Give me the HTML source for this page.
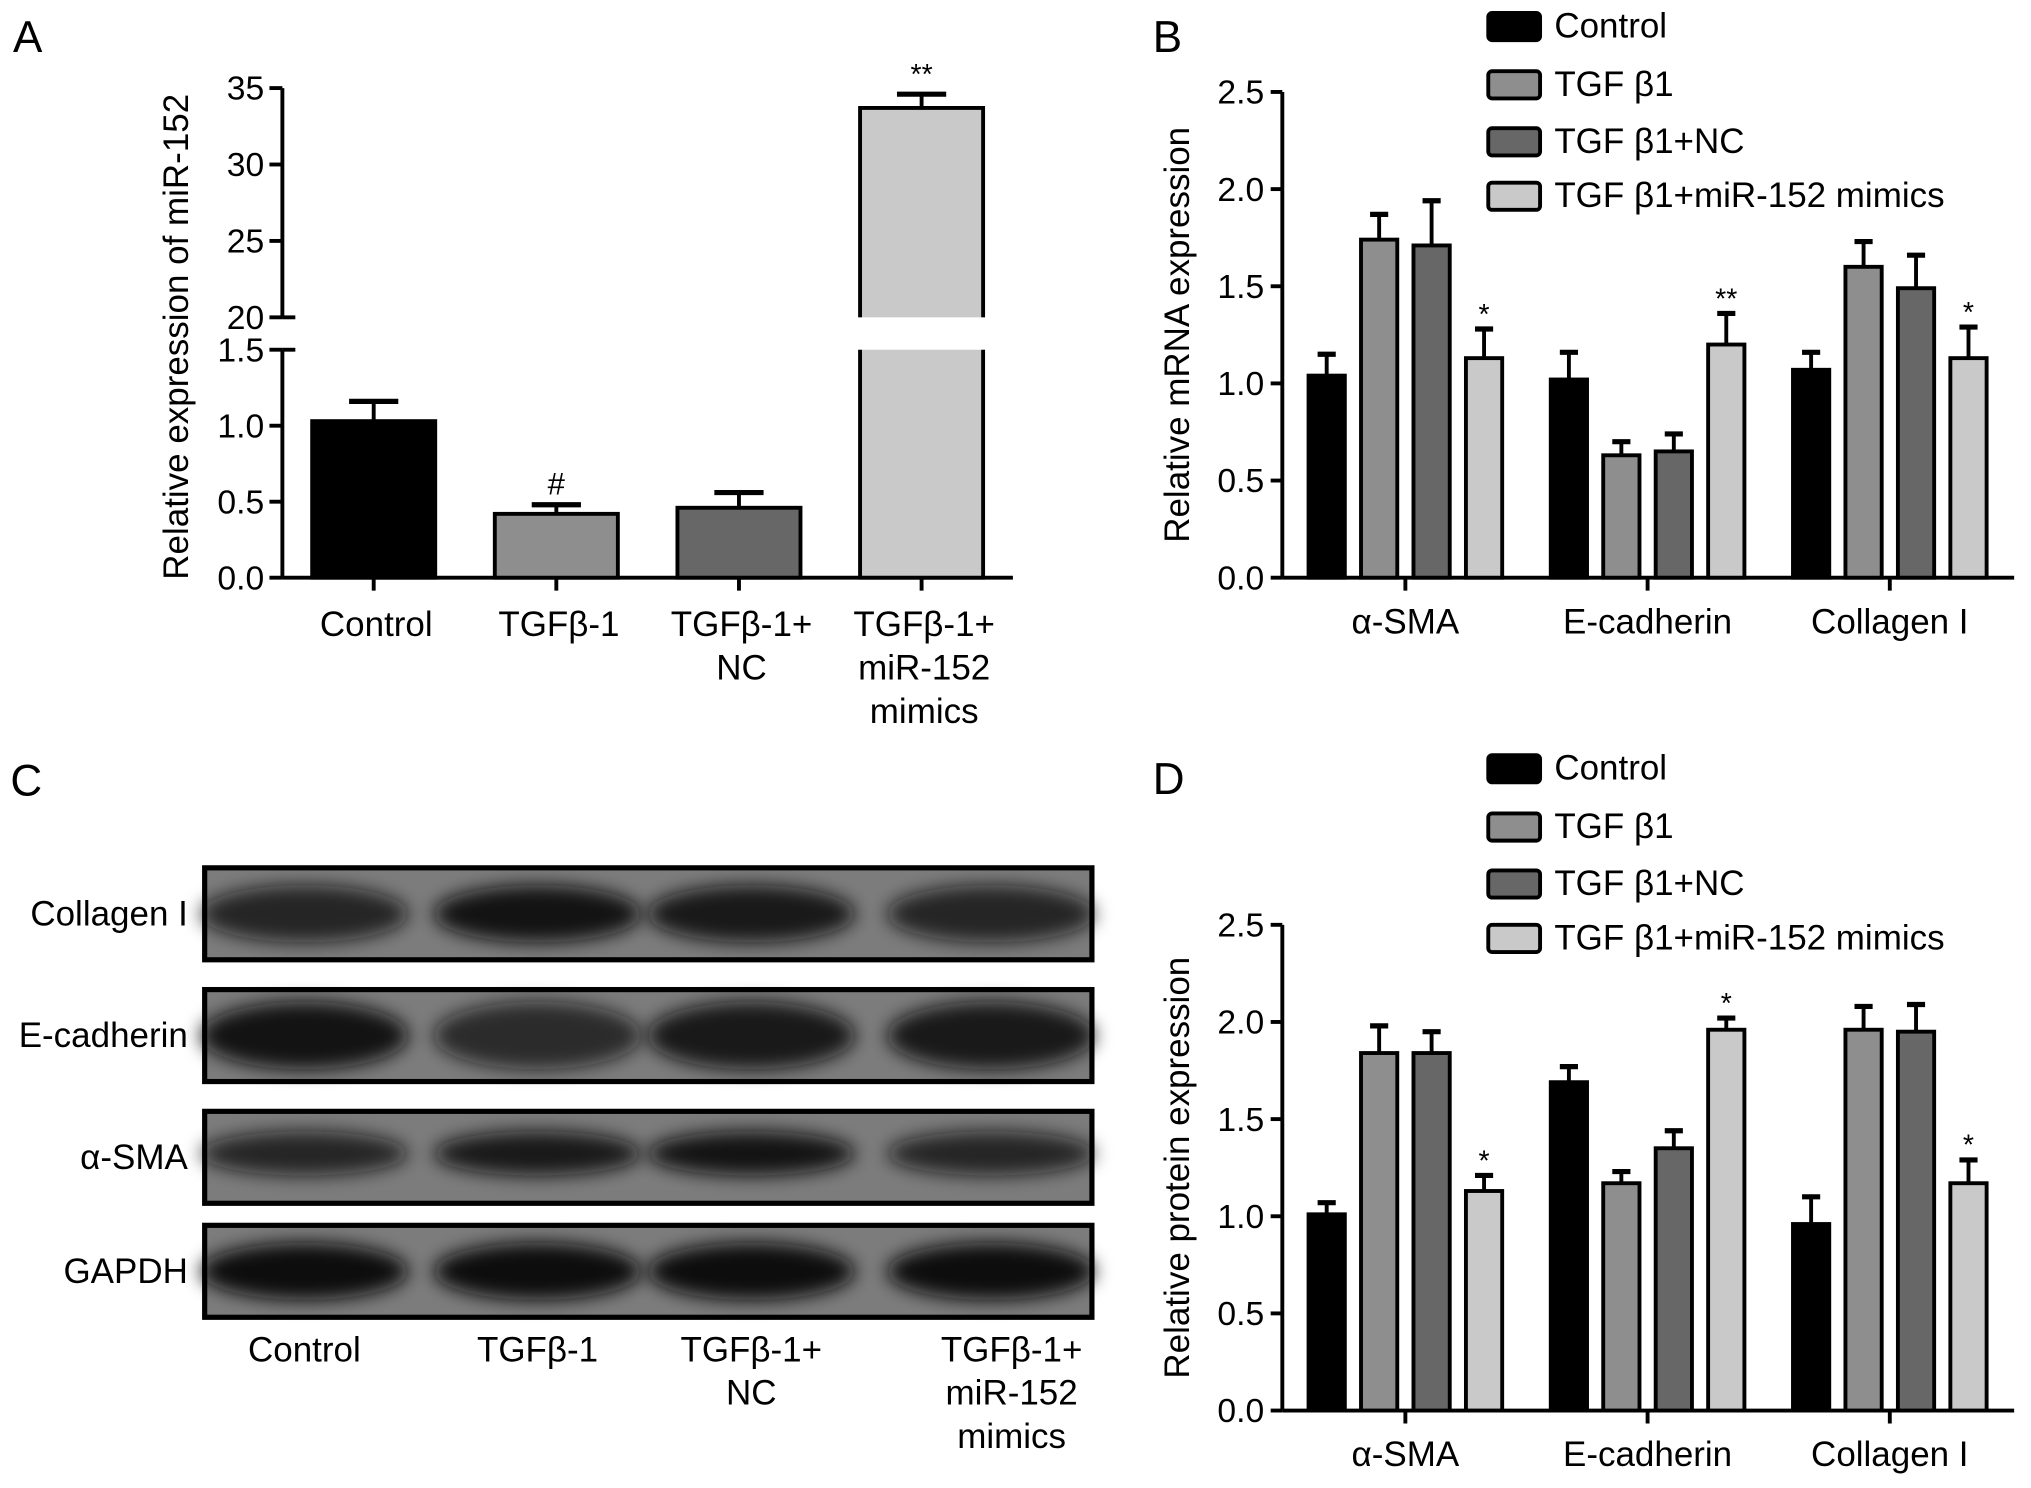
<!DOCTYPE html>
<html><head><meta charset="utf-8"><style>
html,body{margin:0;padding:0;background:#fff;}
svg{display:block;font-family:"Liberation Sans",Arial,sans-serif;}
</style></head><body>
<svg id="fig" width="2031" height="1488" viewBox="0 0 1568 1148.8" xmlns="http://www.w3.org/2000/svg">
<defs>
<filter id="blur" x="-30%" y="-60%" width="160%" height="220%"><feGaussianBlur stdDeviation="7"/></filter>
</defs>
<g id="pA"></g>
<g id="pB"></g>
<g id="pC"></g>
<g id="pD"></g>
</svg>
<script>
// Panel A data
const aCategories = [["Control"],["TGFβ-1"],["TGFβ-1+","NC"],["TGFβ-1+","miR-152","mimics"]];
const aValues = [1.03, 0.42, 0.46, 33.7];
const aErrors = [0.13, 0.06, 0.10, 0.9];
const aMarks = ["", "#", "", "**"];
const aLowTicks = ["0.0","0.5","1.0","1.5"];
const aHighTicks = ["20","25","30","35"];
// Panel B data
const groups = ["α-SMA","E-cadherin","Collagen I"];
const seriesNames = ["Control","TGF β1","TGF β1+NC","TGF β1+miR-152 mimics"];
const bControl = [1.04, 1.02, 1.07];
const bTGF = [1.74, 0.63, 1.60];
const bNC = [1.71, 0.65, 1.49];
const bMimic = [1.13, 1.20, 1.13];
const bErrControl = [0.11, 0.14, 0.09];
const bErrTGF = [0.13, 0.07, 0.13];
const bErrNC = [0.23, 0.09, 0.17];
const bErrMimic = [0.15, 0.16, 0.16];
const bStars = ["*","**","*"];
// Panel D data
const dControl = [1.01, 1.69, 0.96];
const dTGF = [1.84, 1.17, 1.96];
const dNC = [1.84, 1.35, 1.95];
const dMimic = [1.13, 1.96, 1.17];
const dErrControl = [0.06, 0.08, 0.14];
const dErrTGF = [0.14, 0.06, 0.12];
const dErrNC = [0.11, 0.09, 0.14];
const dErrMimic = [0.08, 0.06, 0.12];
const dStars = ["*","*","*"];
const groupTicks = ["0.0","0.5","1.0","1.5","2.0","2.5"];
// Panel C
const blotRows = ["Collagen I","E-cadherin","α-SMA","GAPDH"];
const blotLanes = [["Control"],["TGFβ-1"],["TGFβ-1+","NC"],["TGFβ-1+","miR-152","mimics"]];
const blotIntensity = [[0.8,0.95,0.9,0.8],[0.95,0.75,0.9,0.9],[0.8,0.9,0.95,0.8],[1,1,1,1]];

const NS="http://www.w3.org/2000/svg";
const fills=["#000","#8e8e8e","#676767","#c9c9c9"];
function el(parent,tag,attrs,text){const e=document.createElementNS(NS,tag);for(const k in attrs)e.setAttribute(k,attrs[k]);if(text!==undefined)e.textContent=text;parent.appendChild(e);return e;}

// ---------- Panel A ----------
(function(){
 const g=document.getElementById('pA');
 const X0=218,X1=782,Y0=446;
 const yLow=v=>Y0-v*(176/1.5);
 const yHigh=v=>245-(v-20)*(177/15);
 const yv=v=>v<=1.5?yLow(v):yHigh(v);
 let t=el(g,'text',{x:10,y:40,'font-size':34},'A');
 const ax=el(g,'g',{});
 el(ax,'line',{x1:X0,y1:68,x2:X0,y2:245,stroke:'#000','stroke-width':3});
 el(ax,'line',{x1:X0,y1:270,x2:X0,y2:Y0,stroke:'#000','stroke-width':3});
 aLowTicks.forEach(s=>{const y=yLow(parseFloat(s));el(ax,'line',{x1:X0-10,y1:y,x2:X0,y2:y,stroke:'#000','stroke-width':3});const tt=el(ax,'text',{x:X0-14,y:y+9,'font-size':26,'text-anchor':'end'},s);});
 aHighTicks.forEach(s=>{const y=yHigh(parseFloat(s));el(ax,'line',{x1:X0-10,y1:y,x2:X0,y2:y,stroke:'#000','stroke-width':3});const tt=el(ax,'text',{x:X0-14,y:y+9,'font-size':26,'text-anchor':'end'},s);});
 el(ax,'line',{x1:X0,y1:245,x2:X0+10,y2:245,stroke:'#000','stroke-width':3});
 el(ax,'line',{x1:X0,y1:270,x2:X0+10,y2:270,stroke:'#000','stroke-width':3});
 t=el(g,'text',{x:0,y:0,'font-size':27,'text-anchor':'middle',transform:'translate(145,260) rotate(-90)'},'Relative expression of miR-152');
 el(g,'line',{x1:X0,y1:Y0,x2:X1,y2:Y0,stroke:'#000','stroke-width':3});
 const step=(X1-X0)/4, bw=95;
 aValues.forEach((v,i)=>{
  const cx=X0+step*(i+0.5);
  el(g,'line',{x1:cx,y1:Y0,x2:cx,y2:Y0+10,stroke:'#000','stroke-width':3});
  const bg=el(g,'g',{});
  const top=yv(v), et=yv(v+aErrors[i]);
  el(bg,'line',{x1:cx,y1:top,x2:cx,y2:et,stroke:'#000','stroke-width':3});
  el(bg,'line',{x1:cx-19,y1:et,x2:cx+19,y2:et,stroke:'#000','stroke-width':4});
  if(v>1.5){
   el(bg,'rect',{x:cx-bw/2,y:top,width:bw,height:Y0-top,fill:fills[i],stroke:'#000','stroke-width':3});
   el(bg,'rect',{x:cx-bw/2-4,y:245,width:bw+8,height:25,fill:'#fff'});
  } else el(bg,'rect',{x:cx-bw/2,y:top,width:bw,height:Y0-top,fill:fills[i],stroke:'#000','stroke-width':3});
  if(aMarks[i]){const m=el(g,'text',{x:cx,y:et-8,'font-size':aMarks[i]=='#'?24:22,'text-anchor':'middle'},aMarks[i]);}
  aCategories[i].forEach((s,j)=>{const l=el(g,'text',{x:cx+2,y:491+j*33.5,'font-size':27,'text-anchor':'middle'},s);});
 });
})();

// ---------- Grouped panels ----------
function grouped(gid,letter,Y0,legTop,vals,errs,stars,title){
 const g=document.getElementById(gid);
 const X0=990,X1=1555,Ytop=Y0-375;
 const y=v=>Y0-v*(375/2.5);
 let t=el(g,'text',{x:890,y:legTop+20,'font-size':34},letter);
 const lg=el(g,'g',{});
 const rows=[0,45,89,131];
 seriesNames.forEach((s,i)=>{const e=el(lg,'g',{});
  el(e,'rect',{x:1149,y:legTop+rows[i]-10,width:40,height:21,rx:3,fill:fills[i],stroke:'#000','stroke-width':3});
  el(e,'text',{x:1200,y:legTop+rows[i]+9,'font-size':27},s);});
 el(g,'line',{x1:X0,y1:Ytop,x2:X0,y2:Y0,stroke:'#000','stroke-width':3});
 groupTicks.forEach(s=>{const yy=y(parseFloat(s));el(g,'line',{x1:X0-9,y1:yy,x2:X0,y2:yy,stroke:'#000','stroke-width':3});const tt=el(g,'text',{x:X0-14,y:yy+9,'font-size':26,'text-anchor':'end'},s);});
 t=el(g,'text',{x:0,y:0,'font-size':27,'text-anchor':'middle',transform:`translate(918,${(Ytop+Y0)/2}) rotate(-90)`},title);
 el(g,'line',{x1:X0,y1:Y0,x2:X1,y2:Y0,stroke:'#000','stroke-width':3});
 const gStep=187, gStart=1085, bStep=40.5, bw=28;
 groups.forEach((gn,k)=>{
  const gc=gStart+gStep*k;
  el(g,'line',{x1:gc,y1:Y0,x2:gc,y2:Y0+10,stroke:'#000','stroke-width':3});
  const l=el(g,'text',{x:gc,y:Y0+43,'font-size':27,'text-anchor':'middle'},gn);
  vals.forEach((ser,i)=>{
   const cx=gc+(i-1.5)*bStep, top=y(ser[k]), et=y(ser[k]+errs[i][k]);
   const bg=el(g,'g',{});
   el(bg,'line',{x1:cx,y1:top,x2:cx,y2:et,stroke:'#000','stroke-width':3});
   el(bg,'line',{x1:cx-7,y1:et,x2:cx+7,y2:et,stroke:'#000','stroke-width':4});
   el(bg,'rect',{x:cx-bw/2,y:top,width:bw,height:Y0-top,fill:fills[i],stroke:'#000','stroke-width':3});
   if(i===3){const m=el(g,'text',{x:cx,y:et-4,'font-size':22,'text-anchor':'middle'},stars[k]);}
  });
 });
}
grouped('pB','B',446,20,[bControl,bTGF,bNC,bMimic],[bErrControl,bErrTGF,bErrNC,bErrMimic],bStars,'Relative mRNA expression');
grouped('pD','D',1089,593,[dControl,dTGF,dNC,dMimic],[dErrControl,dErrTGF,dErrNC,dErrMimic],dStars,'Relative protein expression');

// ---------- Panel C ----------
(function(){
 const g=document.getElementById('pC');
 let t=el(g,'text',{x:8,y:614,'font-size':34},'C');
 const tops=[670,764,858,946], h=71, x0=158, x1=843;
 const lanes=[235,415,580,765];
 blotRows.forEach((r,i)=>{
  const bg=el(g,'g',{});
  el(bg,'rect',{x:x0,y:tops[i],width:x1-x0,height:h,fill:'#7c7c7c'});
  lanes.forEach((lx,j)=>{const a=blotIntensity[i][j];
   const ry=i===2?17:(i===1?26:22);
   el(bg,'ellipse',{cx:lx,cy:tops[i]+h/2+(i===2?-3:0),rx:80,ry:ry,fill:'#111','fill-opacity':a,filter:'url(#blur)'});});
  el(bg,'rect',{x:x0,y:tops[i],width:x1-x0,height:h,fill:'none',stroke:'#000','stroke-width':4});
  const l=el(g,'text',{x:145,y:tops[i]+h/2+9,'font-size':27,'text-anchor':'end'},r);
 });
 blotLanes.forEach((ls,j)=>{ls.forEach((s,k)=>{const l=el(g,'text',{x:[235,415,580,781][j],y:1051+k*33.5,'font-size':27,'text-anchor':'middle'},s);});});
})();
</script>
</body></html>
